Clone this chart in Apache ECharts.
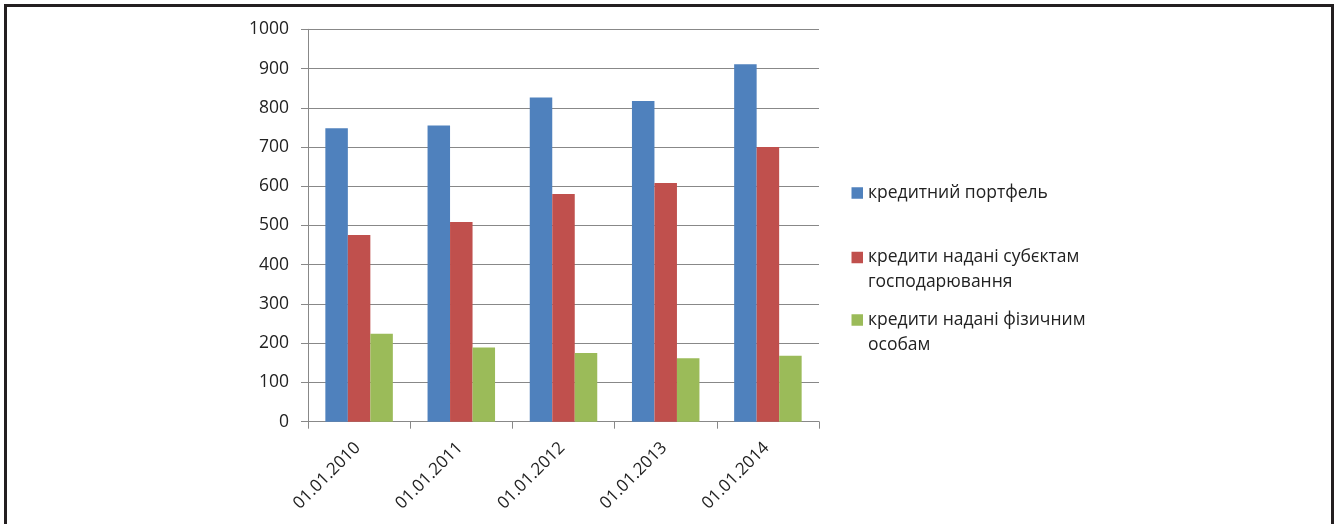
<!DOCTYPE html>
<html>
<head>
<meta charset="utf-8">
<script src="https://cdn.jsdelivr.net/npm/echarts@6/dist/echarts.min.js"></script>
<style>
  html, body { margin: 0; padding: 0; background: #ffffff; }
  #chart { width: 1334px; height: 524px; }
</style>
</head>
<body>
<div id="chart"></div>
<script>
// Dates of the reporting periods
const categories = ['01.01.2010', '01.01.2011', '01.01.2012', '01.01.2013', '01.01.2014'];

// Loan portfolio and its parts
const seriesNames = [
  'кредитний портфель',
  'кредити надані субєктам\nгосподарювання',
  'кредити надані фізичним\nособам'
];
const portfolio = [748, 755, 826, 817, 911];
const businessLoans = [476, 509, 580, 608, 700];
const personalLoans = [224, 189, 175, 162, 168];

const yTicks = { min: 0, max: 1000, interval: 100 };

const colors = ['#4F81BD', '#C0504D', '#9BBB59'];
const FONT = '"Open Sans", "Noto Sans", sans-serif';
const axisGray = '#888888';

// One legend block per series; two-line names get an empty leading row
// so that the marker lines up with the first line of text.
function legendBlock(name, top) {
  const multi = name.indexOf('\n') >= 0;
  return {
    show: true,
    orient: 'vertical',
    left: 851.5,
    top: top,
    padding: 0,
    icon: 'rect',
    itemWidth: 11.5,
    itemHeight: 11.5,
    itemGap: 0,
    selectedMode: false,
    data: [name],
    formatter: (n) => (multi ? '\n' + n : n),
    textStyle: {
      fontFamily: FONT,
      fontSize: 17.5,
      color: '#222222',
      lineHeight: 25
    }
  };
}

const chart = echarts.init(document.getElementById('chart'), null, { renderer: 'canvas' });

chart.setOption({
  animation: false,
  backgroundColor: '#ffffff',
  color: colors,
  grid: { left: 308, right: 515, top: 29.3, bottom: 102.3, containLabel: false },
  legend: [
    legendBlock(seriesNames[0], 180.5),
    legendBlock(seriesNames[1], 220),
    legendBlock(seriesNames[2], 282.5)
  ],
  xAxis: {
    type: 'category',
    data: categories,
    axisLine: { lineStyle: { color: axisGray, width: 1 } },
    axisTick: { show: true, length: 7, lineStyle: { color: axisGray } },
    axisLabel: {
      rotate: 45,
      margin: 22,
      padding: [0, 2, 0, 0],
      fontFamily: FONT,
      fontSize: 17,
      color: '#222222'
    },
    splitLine: { show: false }
  },
  yAxis: {
    type: 'value',
    min: yTicks.min,
    max: yTicks.max,
    interval: yTicks.interval,
    axisLine: { show: true, lineStyle: { color: axisGray, width: 1 } },
    axisTick: { show: true, length: 7, lineStyle: { color: axisGray } },
    axisLabel: {
      margin: 19,
      formatter: (v) => String(v),
      fontFamily: FONT,
      fontSize: 17.5,
      color: '#222222'
    },
    splitLine: { show: true, lineStyle: { color: axisGray, width: 1 } }
  },
  series: [
    { name: seriesNames[0], type: 'bar', data: portfolio, barWidth: 22.5, barGap: '0%' },
    { name: seriesNames[1], type: 'bar', data: businessLoans, barWidth: 22.5, barGap: '0%' },
    { name: seriesNames[2], type: 'bar', data: personalLoans, barWidth: 22.5, barGap: '0%' }
  ],
  graphic: [
    {
      type: 'polyline',
      silent: true,
      shape: { points: [[5.5, 524], [5.5, 5.5], [1332.5, 5.5], [1332.5, 524]] },
      style: { stroke: '#231f20', lineWidth: 3, fill: null }
    }
  ]
});
</script>
</body>
</html>
